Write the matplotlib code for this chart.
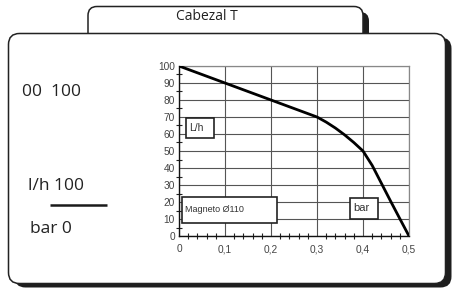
import matplotlib
matplotlib.use("Agg")
import matplotlib.pyplot as plt
from matplotlib.patches import FancyBboxPatch, Rectangle
import numpy as np

# Data
pressure_bar = [0.0, 0.1, 0.2, 0.25, 0.3, 0.32, 0.34, 0.36, 0.38, 0.4, 0.42, 0.44, 0.46, 0.48, 0.5]
flow_lh = [100, 90, 80, 75, 70, 67, 63.5, 59.5, 55, 50, 41.5, 31, 20.5, 10.2, 0]
x_ticks = [0, 0.1, 0.2, 0.3, 0.4, 0.5]
x_tick_labels = ["0", "0,1", "0,2", "0,3", "0,4", "0,5"]
y_ticks = [0, 10, 20, 30, 40, 50, 60, 70, 80, 90, 100]
title_text = "Cabezal T"
left_texts = ["00  100", "l/h 100", "bar 0"]
box_labels = ["L/h", "Magneto \u00d8110", "bar"]

W, H = 460, 289
fig = plt.figure(figsize=(W / 100, H / 100), dpi=100)
fig.patch.set_facecolor("white")

# Overlay for frame in pixel coords
ov = fig.add_axes([0, 0, 1, 1], zorder=0)
ov.set_xlim(0, W)
ov.set_ylim(H, 0)
ov.axis("off")

# Tab shadow and tab
ov.add_patch(FancyBboxPatch((94, 12), 275, 40, boxstyle="round,pad=0,rounding_size=9",
                            fc="#1e1e1e", ec="none", zorder=1))
ov.add_patch(FancyBboxPatch((88, 6.5), 275, 40, boxstyle="round,pad=0,rounding_size=9",
                            fc="white", ec="#222222", lw=1.1, zorder=2))
# Main frame shadow and frame
ov.add_patch(FancyBboxPatch((14.5, 37.5), 437, 250, boxstyle="round,pad=0,rounding_size=11",
                            fc="#1e1e1e", ec="none", zorder=3))
ov.add_patch(FancyBboxPatch((8.5, 33.5), 437, 250, boxstyle="round,pad=0,rounding_size=11",
                            fc="white", ec="#222222", lw=1.1, zorder=4))
ov.text(207, 16.5, title_text, ha="center", va="center", fontsize=10,
        family="Open Sans", color="#222222", zorder=5)

ov.text(22, 92, left_texts[0], ha="left", va="center", fontsize=12.5,
        family="Open Sans", color="#222222", zorder=5)
ov.text(28, 186, left_texts[1], ha="left", va="center", fontsize=12.5,
        family="Open Sans", color="#222222", zorder=5)
ov.plot([50, 107], [204.5, 204.5], color="#1a1a1a", lw=1.8, zorder=5, solid_capstyle="butt")
ov.text(30, 229, left_texts[2], ha="left", va="center", fontsize=12.5,
        family="Open Sans", color="#222222", zorder=5)

# Plot axes
x0, x1 = 179, 409
y0, y1 = 66, 236
ax = fig.add_axes([x0 / W, (H - y1) / H, (x1 - x0) / W, (y1 - y0) / H], zorder=2)
ax.set_facecolor("white")
ax.set_xlim(0, 0.5)
ax.set_ylim(0, 100)
ax.set_xticks(x_ticks)
ax.set_xticklabels(x_tick_labels)
ax.set_yticks(y_ticks)
ax.set_xticks(np.arange(0, 0.5001, 0.02), minor=True)
ax.set_yticks(np.arange(0, 100.01, 5), minor=True)
ax.grid(True, which="major", color="#555555", lw=0.8)
ax.tick_params(which="both", direction="inout", color="#222222", width=0.8,
               labelsize=7.3, labelcolor="#444444")
ax.tick_params(axis="x", which="major", pad=6)
ax.tick_params(axis="y", which="major", pad=3)
ax.tick_params(which="major", length=0)
ax.tick_params(which="minor", length=5)
for lab in ax.get_xticklabels() + ax.get_yticklabels():
    lab.set_family("Liberation Sans")
for s in ["left", "bottom"]:
    ax.spines[s].set_color("#111111")
    ax.spines[s].set_linewidth(1.0)
for s in ["top", "right"]:
    ax.spines[s].set_color("#888888")
    ax.spines[s].set_linewidth(0.9)

ax.plot(pressure_bar, flow_lh, color="black", lw=2, zorder=4,
        solid_capstyle="round", solid_joinstyle="round")

# Label boxes
boxes = [(0.015, 57.6, 0.061, 11.8), (0.0065, 7.6, 0.2065, 15.4), (0.372, 10, 0.061, 12.4)]
sizes = [7.5, 6.5, 8]
for (bx, by, bw, bh), lab, fs in zip(boxes, box_labels, sizes):
    ax.add_patch(Rectangle((bx, by), bw, bh, fc="white", ec="#222222", lw=1.2, zorder=5))
    ax.text(bx + 0.006, by + bh / 2, lab, ha="left", va="center", fontsize=fs,
            family="Liberation Sans", color="#333333", zorder=6)

fig.savefig("out.png", dpi=100, facecolor="white")
